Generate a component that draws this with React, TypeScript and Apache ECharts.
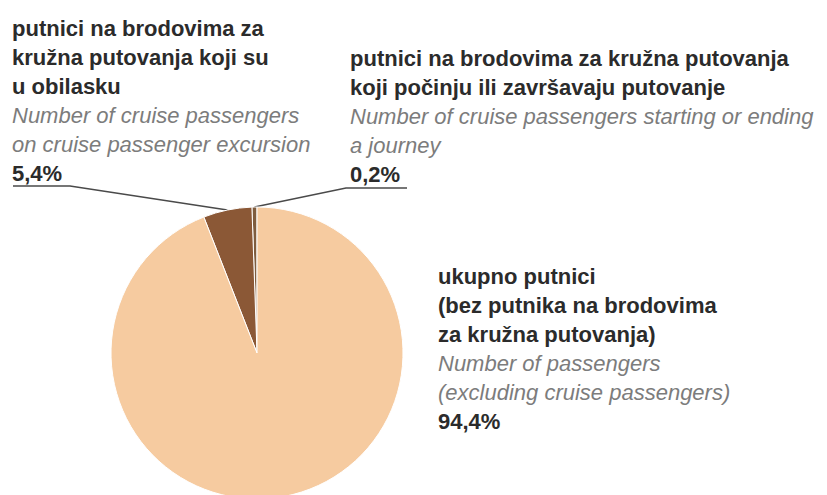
import React, { useEffect, useRef } from "react";
import * as echarts from "echarts";

// Slice order: counter-clockwise from 12 o'clock
const sliceNamesHr: string[][] = [
  ["putnici na brodovima za kružna putovanja", "koji počinju ili završavaju putovanje"],
  ["putnici na brodovima za", "kružna putovanja koji su", "u obilasku"],
  ["ukupno putnici", "(bez putnika na brodovima", "za kružna putovanja)"],
];
const sliceNamesEn: string[][] = [
  ["Number of cruise passengers starting or ending", "a journey"],
  ["Number of cruise passengers", "on cruise passenger excursion"],
  ["Number of passengers", "(excluding cruise passengers)"],
];
const shares = [0.2, 5.4, 94.4];
const shareLabels = ["0,2%", "5,4%", "94,4%"];
const sliceColors = ["#7f5c3e", "#8b5836", "#f6cba0"];

type Anchor = {
  x: number;
  y: number;
  align: "left" | "right" | "center";
  verticalAlign: "top" | "bottom" | "middle";
  line: number[][] | null;
};

const labelAnchors: Anchor[] = [
  { x: 350, y: 189, align: "left", verticalAlign: "bottom", line: [[346, 188], [407, 188]] },
  { x: 12, y: 188, align: "left", verticalAlign: "bottom", line: [[70, 186], [13, 186]] },
  { x: 438, y: 262, align: "left", verticalAlign: "top", line: null },
];

export default function App() {
  const ref = useRef<HTMLDivElement>(null);

  useEffect(() => {
    if (!ref.current) return;
    const chart = echarts.init(ref.current, undefined, { renderer: "svg" });

    const data = shares.map((v, i) => {
      const parts: string[] = [];
      sliceNamesHr[i].forEach((l) => parts.push(`{b|${l}}`));
      sliceNamesEn[i].forEach((l) => parts.push(`{i|${l}}`));
      parts.push(`{p|${shareLabels[i]}}`);
      return {
        value: v,
        name: sliceNamesHr[i].join(" "),
        itemStyle: { color: sliceColors[i] },
        label: { formatter: parts.join("\n") },
        labelLine: { show: labelAnchors[i].line !== null },
      };
    });

    chart.setOption({
      animation: false,
      backgroundColor: "#ffffff",
      series: [
        {
          type: "pie",
          center: [257, 353],
          radius: 146,
          startAngle: 90,
          clockwise: false,
          minAngle: 2,
          avoidLabelOverlap: false,
          silent: true,
          itemStyle: { borderColor: "#ffffff", borderWidth: 1 },
          label: {
            show: true,
            position: "outside",
            overflow: "none",
            fontFamily: "Liberation Sans, Arial, sans-serif",
            rich: {
              b: {
                fontFamily: "Liberation Sans, Arial, sans-serif",
                fontSize: 22,
                fontWeight: "bold",
                color: "#2b2b2b",
                lineHeight: 29,
              },
              i: {
                fontFamily: "Liberation Sans, Arial, sans-serif",
                fontSize: 22,
                fontStyle: "italic",
                color: "#7c7c7c",
                lineHeight: 29,
              },
              p: {
                fontFamily: "Liberation Sans, Arial, sans-serif",
                fontSize: 22,
                fontWeight: "bold",
                color: "#2b2b2b",
                lineHeight: 29,
              },
            },
          },
          labelLine: {
            show: true,
            lineStyle: { color: "#4a4a4a", width: 1.5 },
          },
          labelLayout: (params: any) => {
            const a = labelAnchors[params.dataIndex];
            const res: any = {
              x: a.x,
              y: a.y,
              align: a.align,
              verticalAlign: a.verticalAlign,
            };
            const start = params.labelLinePoints ? params.labelLinePoints[0] : null;
            if (a.line && start) {
              res.labelLinePoints = [start, ...a.line];
            }
            return res;
          },
          data,
        },
      ],
    });

    return () => {
      chart.dispose();
    };
  }, []);

  return (
    <div
      ref={ref}
      style={{ position: "fixed", left: 0, top: 0, width: 827, height: 495 }}
    />
  );
}
